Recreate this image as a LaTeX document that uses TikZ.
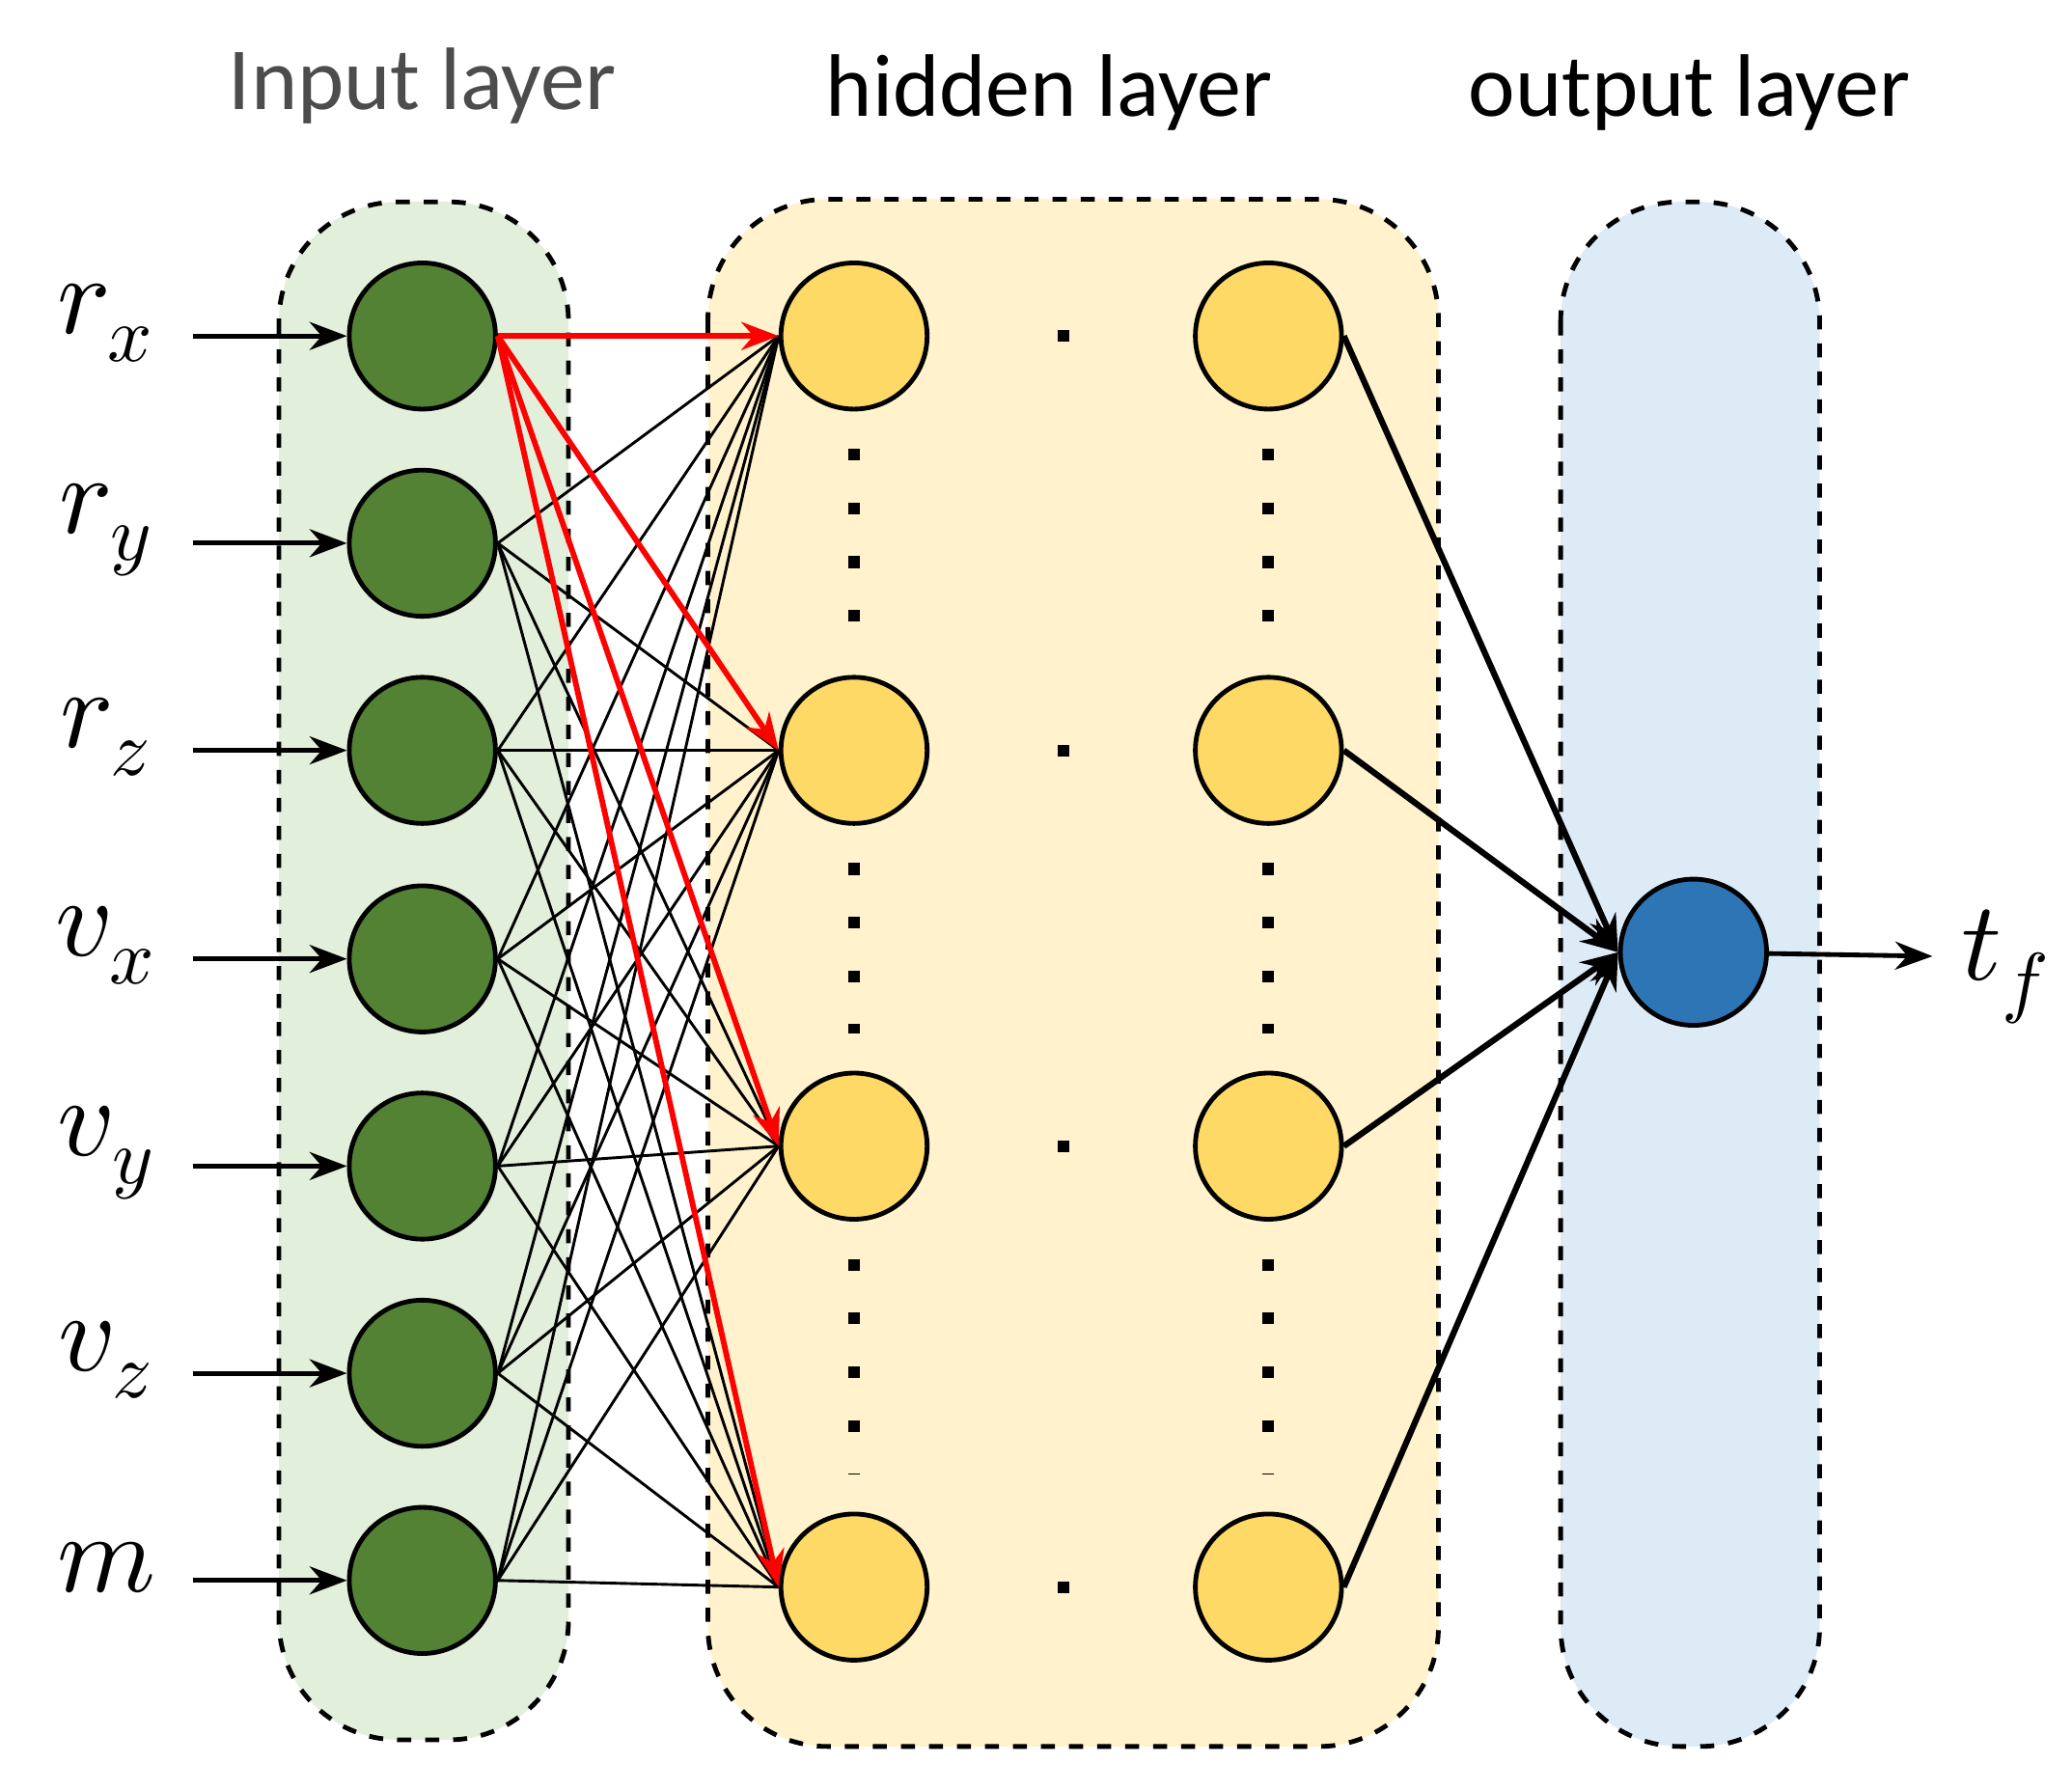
\documentclass[tikz,border=0pt]{standalone}
\usepackage{fontspec}
\setmainfont{Carlito}
\usepackage{unicode-math}
\usetikzlibrary{arrows.meta}
\definecolor{inbg}{HTML}{E2EFDA}
\definecolor{hidbg}{HTML}{FFF2CC}
\definecolor{outbg}{HTML}{DDEBF7}
\definecolor{ingreen}{HTML}{548235}
\definecolor{hidyel}{HTML}{FFD966}
\definecolor{outblue}{HTML}{2E75B6}
\tikzset{
  layerbox/.style={draw,dashed,line width=1pt,rounded corners=0.9cm},
  neuron/.style={circle,draw,line width=1pt,minimum size=1.1cm,inner sep=0pt},
  innode/.style={neuron,fill=ingreen},
  hidnode/.style={neuron,fill=hidyel},
  outnode/.style={neuron,fill=outblue},
  title/.style={font=\fontsize{19}{22}\selectfont},
  varlabel/.style={font=\fontsize{24}{26}\selectfont},
  dots/.style={line width=2.5pt,dash pattern=on 2.5pt off 9pt,line cap=butt}
}
\begin{document}
\begin{tikzpicture}[x=0.01cm,y=-0.01cm,>={Stealth[length=8pt]}]
\useasboundingbox (0,0) rectangle (1560,1348);

% layer boxes
\draw[layerbox,fill=inbg]  (210,152) rectangle (428,1310);
\draw[layerbox,fill=hidbg] (533,150) rectangle (1083,1315);
\draw[layerbox,fill=outbg] (1175,152) rectangle (1370,1315);

\node[title,text=black!70] at (318,65) {Input layer};
\node[title] at (790,70) {hidden layer};
\node[title] at (1272,70) {output layer};

% input layer
\foreach \name/\lab/\y in {i1/r_x/253,i2/r_y/409,i3/r_z/565,i4/v_x/722,i5/v_y/878,i6/v_z/1034,i7/m/1190}{
  \node[innode] (\name) at (318,\y) {};
  \node[varlabel] (l\name) at (80,\y-10) {$\lab$};
  \coordinate (s\name) at (145,\y);
  \draw[->,line width=1pt] (s\name) -- (\name);
}

% hidden layers
\foreach \n/\y in {1/253,2/565,3/863,4/1195}{
  \node[hidnode] (a\n) at (643,\y) {};
  \node[hidnode] (b\n) at (955,\y) {};
  \draw[dots] ([xshift=30pt]a\n.east) -- ([xshift=-30pt]b\n.west);
}
\foreach \p/\q in {1/2,2/3,3/4}{
  \draw[dots] ([yshift=-8pt]a\p.south) -- ([yshift=8pt]a\q.north);
  \draw[dots] ([yshift=-8pt]b\p.south) -- ([yshift=8pt]b\q.north);
}

% output layer
\node[outnode] (o) at (1275,717) {};
\coordinate (tend) at (1455,720);
\node[varlabel] (tf) at (1510,728) {$t_f$};
\draw[->,line width=1pt] (o) -- (tend);

% connections
\foreach \i in {2,...,7}
  \foreach \h in {1,...,4}
    \draw[line width=0.6pt] (i\i.east) -- (a\h.west);
\foreach \h in {1,...,4}
  \draw[->,red,line width=1.2pt] (i1.east) -- (a\h.west);
\foreach \h in {1,...,4}
  \draw[->,line width=1.3pt] (b\h.east) -- (o.west);
\end{tikzpicture}
\end{document}
